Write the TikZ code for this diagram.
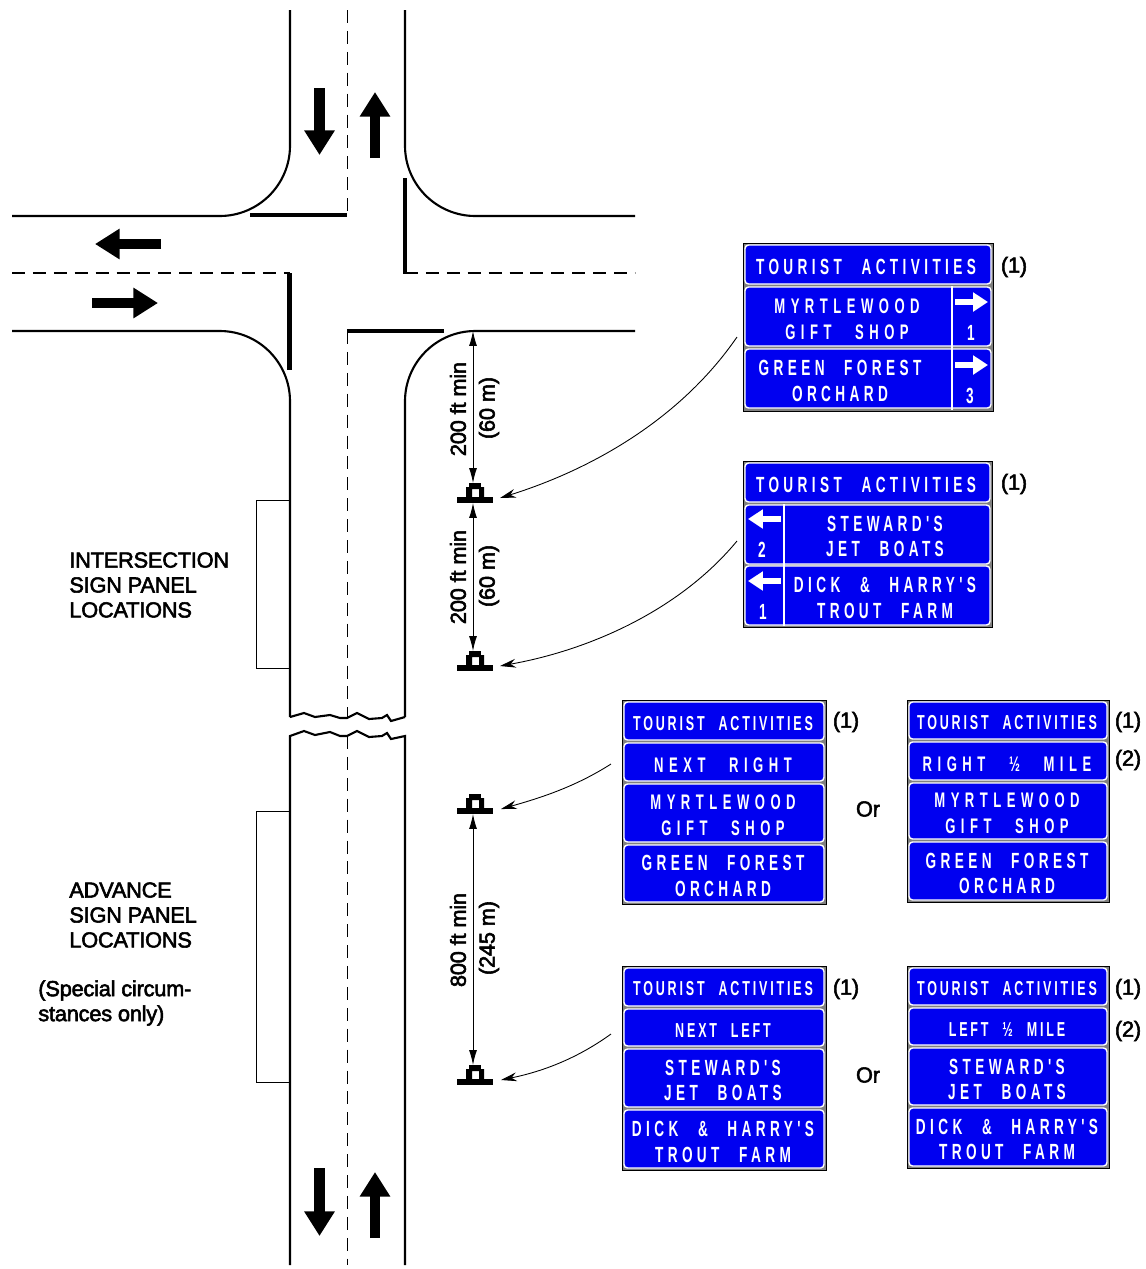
\documentclass[tikz,border=0pt]{standalone}
\usepackage{fontspec}
\usepackage{tikz}
\usetikzlibrary{arrows.meta,positioning,calc}
\setmainfont{Liberation Sans}
\newfontfamily\labelfont[FakeBold=2.5,LetterSpace=-1]{Liberation Sans}
\newfontfamily\signfont[FakeStretch=0.62,LetterSpace=20,WordSpace=2.4]{Liberation Sans}
\newfontfamily\signtight[FakeStretch=0.62,LetterSpace=14,WordSpace=2.2]{Liberation Sans}
\newfontfamily\signwide[FakeStretch=0.62,LetterSpace=26,WordSpace=2.6]{Liberation Sans}
\definecolor{signblue}{RGB}{0,0,240}
\tikzset{
    roadline/.style={line width=1.2pt},
    centerline/.style={line width=0.65pt, dash pattern=on 7.4pt off 4.5pt},
    stopline/.style={line width=2.4pt},
    bigarrow/.style={line width=6pt, -{Triangle[length=14pt,width=16.5pt]}},
    dimline/.style={line width=0.5pt, {Latex[length=8.5pt,width=4.5pt]}-{Latex[length=8.5pt,width=4.5pt]}},
    callout/.style={line width=0.5pt, -{Stealth[length=9pt,width=5pt]}},
    signframe/.style={draw=black, line width=0.5pt, fill=black!50},
    panel/.style={draw=white, line width=0.8pt, fill=signblue, rounded corners=2pt},
    divider/.style={draw=white, line width=0.8pt},
    signarrow/.style={draw=white, line width=3.6pt, -{Triangle[length=8.5pt,width=10.5pt]}},
    signtext/.style={text=white, font=\signfont\bfseries\fontsize{12.5}{14}\selectfont, text height=9pt, text depth=0pt, inner sep=0pt},
    smalltext/.style={text=white, font=\signtight\bfseries\fontsize{11.5}{14}\selectfont, text height=8.3pt, text depth=0pt, inner sep=0pt},
    widetext/.style={text=white, font=\signwide\bfseries\fontsize{12}{14}\selectfont, text height=8.6pt, text depth=0pt, inner sep=0pt},
    notetext/.style={font=\labelfont\fontsize{12.4}{14.2}\selectfont, align=left, inner sep=0pt, anchor=west},
    dimtext/.style={font=\labelfont\fontsize{12.4}{14}\selectfont, rotate=90, inner sep=0pt},
}
\begin{document}
\begin{tikzpicture}[x=0.02cm,y=-0.02cm]
    \useasboundingbox (0,0) rectangle (1146,1269);

    % Roadway edges
    \draw[roadline, rounded corners=40pt] (290,10) -- (290,216) -- (12,216);
    \draw[roadline, rounded corners=40pt] (405,10) -- (405,216) -- (635,216);
    \draw[roadline, rounded corners=40pt] (12,331) -- (290,331) -- (290,717);
    \draw[roadline, rounded corners=40pt] (635,331) -- (405,331) -- (405,717);
    \draw[roadline] (290,717) -- (304,713) -- (315,717) -- (330,715) -- (340,718) -- (347,718) -- (357,713) -- (369,719) -- (382,718) -- (387,715) -- (391,721) -- (405,717);
    \draw[roadline] (290,1265) -- (290,736) -- (304,731) -- (315,735) -- (330,732) -- (340,736) -- (347,736) -- (357,731) -- (369,737) -- (382,736) -- (387,733) -- (391,739) -- (405,736) -- (405,1265);

    % Center lines
    \draw[centerline] (347.5,10) -- (347.5,215);
    \draw[centerline] (347.5,331) -- (347.5,717);
    \draw[centerline] (347.5,736) -- (347.5,1265);
    \draw[centerline] (12,273) -- (290,273);
    \draw[centerline] (405,273) -- (635,273);

    % Stop lines
    \draw[stopline] (250,215) -- (347,215);
    \draw[stopline] (405,178) -- (405,274);
    \draw[stopline] (289.5,273) -- (289.5,370);
    \draw[stopline] (347,331) -- (444,331);

    % Direction arrows
    \draw[bigarrow] (319.5,88) -- (319.5,155);
    \draw[bigarrow] (375,158) -- (375,92);
    \draw[bigarrow] (161,244) -- (95,244);
    \draw[bigarrow] (92,303) -- (158,303);
    \draw[bigarrow] (319.5,1168) -- (319.5,1236);
    \draw[bigarrow] (375,1238) -- (375,1172);

    % Panel location brackets
    \draw[line width=0.5pt] (290,500) -- (256,500) -- (256,668) -- (290,668);
    \draw[line width=0.5pt] (290,811) -- (256,811) -- (256,1082) -- (290,1082);
    \node[notetext] (intersectionlabel) at (69,585) {INTERSECTION\\SIGN PANEL\\LOCATIONS};
    \node[notetext] (advancelabel) at (69,915) {ADVANCE\\SIGN PANEL\\LOCATIONS};
    \node[notetext] (speciallabel) at (38,1003) {(Special circum-\\stances only)};

    % Sign supports
    \foreach \postname/\postx/\posty in {postA/475/500, postB/475/668, postC/475/811, postD/475/1082} {
        \coordinate (\postname) at (\postx,\posty);
        \fill (\postx-18,\posty-3) rectangle (\postx+18,\posty+3);
        \fill (\postx-6,\posty-17) rectangle (\postx+6,\posty-12);
        \fill[even odd rule] (\postx-9,\posty-13) rectangle (\postx+9,\posty-3)
            (\postx-3,\posty-11) rectangle (\postx+4,\posty-3);
    }

    % Spacing dimensions
    \coordinate (streetedge) at (473,331);
    \draw[dimline] (streetedge) -- ($(postA)+(-2,-17)$);
    \draw[dimline] ($(postA)+(-2,3)$) -- ($(postB)+(-2,-17)$);
    \draw[dimline] ($(postC)+(-2,3)$) -- ($(postD)+(-2,-17)$);
    \node[dimtext] (dimAft) at (458,409) {200 ft min};
    \node[dimtext] (dimAm) at (489,408) {(60 m)};
    \node[dimtext] (dimBft) at (458,577) {200 ft min};
    \node[dimtext] (dimBm) at (489,576) {(60 m)};
    \node[dimtext] (dimCft) at (458,940) {800 ft min};
    \node[dimtext] (dimCm) at (489,938) {(245 m)};

    % Sign 1: intersection, right
    \draw[signframe] (743,243) rectangle (993,411);
    \draw[panel] (745,245) rectangle (991,284);
    \draw[panel] (745,287) rectangle (991,346);
    \draw[panel] (745,349) rectangle (991,408);
    \draw[divider] (952,286) -- (952,410);
    \draw[signarrow] (955,302) -- (988,302);
    \draw[signarrow] (955,365) -- (988,365);
    \node[signtext] (oneA) at (866,267) {TOURIST ACTIVITIES};
    \node[widetext] (oneB) at (847,306) {MYRTLEWOOD};
    \node[widetext] (oneC) at (847,332) {GIFT SHOP};
    \node[signtext] (oneD) at (840,368) {GREEN FOREST};
    \node[signtext] (oneE) at (840,394) {ORCHARD};
    \node[signtext] (oneF) at (971,333) {1};
    \node[signtext] (oneG) at (970,396) {3};
    \node[notetext, anchor=center] (oneNote) at (1014,267) {(1)};

    % Sign 2: intersection, left
    \draw[signframe] (743,461) rectangle (992,627);
    \draw[panel] (745,463) rectangle (990,502);
    \draw[panel] (745,505) rectangle (990,564);
    \draw[panel] (745,566) rectangle (990,625);
    \draw[divider] (784,504) -- (784,626);
    \draw[signarrow] (781,519) -- (748,519);
    \draw[signarrow] (781,581) -- (748,581);
    \node[signtext] (twoA) at (866,485) {TOURIST ACTIVITIES};
    \node[signtext] (twoB) at (885,524) {STEWARD'S};
    \node[signtext] (twoC) at (885,549) {JET BOATS};
    \node[signtext] (twoD) at (885,585) {DICK \& HARRY'S};
    \node[signtext] (twoE) at (885,611) {TROUT FARM};
    \node[signtext] (twoF) at (762,550) {2};
    \node[signtext] (twoG) at (763,612) {1};
    \node[notetext, anchor=center] (twoNote) at (1014,484) {(1)};

    % Sign 3: advance, next right
    \draw[signframe] (622,700) rectangle (826,904);
    \draw[panel] (624,702) rectangle (824,740);
    \draw[panel] (624,743) rectangle (824,781);
    \draw[panel] (624,784) rectangle (824,842);
    \draw[panel] (624,845) rectangle (824,902);
    \node[smalltext] (threeA) at (723,723) {TOURIST ACTIVITIES};
    \node[widetext] (threeB) at (723,765) {NEXT RIGHT};
    \node[widetext] (threeC) at (723,802) {MYRTLEWOOD};
    \node[widetext] (threeD) at (723,828) {GIFT SHOP};
    \node[signtext] (threeE) at (723,863) {GREEN FOREST};
    \node[signtext] (threeF) at (723,889) {ORCHARD};
    \node[notetext, anchor=center] (threeNote) at (846,722) {(1)};
    \node[notetext, anchor=center] (orA) at (868,809) {Or};

    % Sign 4: advance, right half mile
    \draw[signframe] (907,700) rectangle (1109,902);
    \draw[panel] (909,702) rectangle (1107,739);
    \draw[panel] (909,742) rectangle (1107,780);
    \draw[panel] (909,783) rectangle (1107,839);
    \draw[panel] (909,842) rectangle (1107,900);
    \node[smalltext] (fourA) at (1007,722) {TOURIST ACTIVITIES};
    \node[widetext] (fourB) at (1007,764) {RIGHT ½ MILE};
    \node[widetext] (fourC) at (1007,800) {MYRTLEWOOD};
    \node[widetext] (fourD) at (1007,826) {GIFT SHOP};
    \node[signtext] (fourE) at (1007,861) {GREEN FOREST};
    \node[signtext] (fourF) at (1007,886) {ORCHARD};
    \node[notetext, anchor=center] (fourNote) at (1128,722) {(1)};
    \node[notetext, anchor=center] (fourNoteB) at (1128,760) {(2)};

    % Sign 5: advance, next left
    \draw[signframe] (622,966) rectangle (826,1170);
    \draw[panel] (624,968) rectangle (824,1006);
    \draw[panel] (624,1009) rectangle (824,1046);
    \draw[panel] (624,1049) rectangle (824,1107);
    \draw[panel] (624,1110) rectangle (824,1168);
    \node[smalltext] (fiveA) at (723,988) {TOURIST ACTIVITIES};
    \node[smalltext] (fiveB) at (723,1030) {NEXT LEFT};
    \node[signtext] (fiveC) at (723,1068) {STEWARD'S};
    \node[signtext] (fiveD) at (723,1093) {JET BOATS};
    \node[signtext] (fiveE) at (723,1129) {DICK \& HARRY'S};
    \node[signtext] (fiveF) at (723,1155) {TROUT FARM};
    \node[notetext, anchor=center] (fiveNote) at (846,989) {(1)};
    \node[notetext, anchor=center] (orB) at (868,1075) {Or};

    % Sign 6: advance, left half mile
    \draw[signframe] (907,966) rectangle (1109,1168);
    \draw[panel] (909,968) rectangle (1107,1005);
    \draw[panel] (909,1008) rectangle (1107,1045);
    \draw[panel] (909,1048) rectangle (1107,1105);
    \draw[panel] (909,1108) rectangle (1107,1166);
    \node[smalltext] (sixA) at (1007,988) {TOURIST ACTIVITIES};
    \node[smalltext] (sixB) at (1007,1029) {LEFT ½ MILE};
    \node[signtext] (sixC) at (1007,1067) {STEWARD'S};
    \node[signtext] (sixD) at (1007,1092) {JET BOATS};
    \node[signtext] (sixE) at (1007,1127) {DICK \& HARRY'S};
    \node[signtext] (sixF) at (1007,1152) {TROUT FARM};
    \node[notetext, anchor=center] (sixNote) at (1128,989) {(1)};
    \node[notetext, anchor=center] (sixNoteB) at (1128,1031) {(2)};

    % Callouts from signs to supports
    \coordinate (calloutA) at (737,337);
    \coordinate (calloutB) at (737,541);
    \coordinate (calloutC) at (611,764);
    \coordinate (calloutD) at (611,1034);
    \draw[callout] (calloutA) .. controls (680,420) and (590,470) .. ($(postA)+(25,-2)$);
    \draw[callout] (calloutB) .. controls (680,610) and (590,650) .. ($(postB)+(25,-2)$);
    \draw[callout] (calloutC) .. controls (575,787) and (540,798) .. ($(postC)+(26,-2)$);
    \draw[callout] (calloutD) .. controls (575,1060) and (540,1072) .. ($(postD)+(26,-2)$);
\end{tikzpicture}
\end{document}
